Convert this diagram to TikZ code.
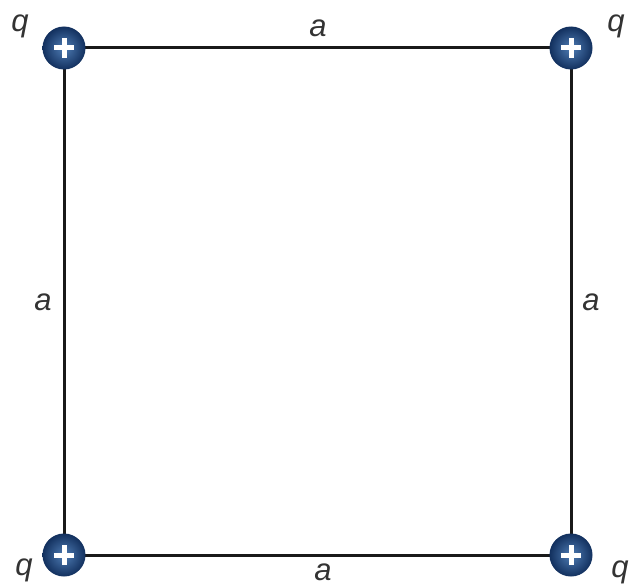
\documentclass[tikz,border=0pt]{standalone}
\usepackage{fontspec}
\setmainfont{Liberation Sans}
\begin{document}
\begin{tikzpicture}[x=1pt,y=-1pt,
  charge/.style={circle,minimum size=43pt,inner sep=0pt,draw=none,
    inner color=chargelight,outer color=chargedark},
  edge/.style={line width=3pt,black!90},
  lbl/.style={font=\fontsize{31}{31}\selectfont\itshape,text=black!80,inner sep=0pt}]
\definecolor{chargelight}{HTML}{4F7DB5}
\definecolor{chargedark}{HTML}{12305E}
\useasboundingbox (0,0) rectangle (631,586);
\coordinate (tl) at (64,48);
\coordinate (tr) at (571,48);
\coordinate (bl) at (64,555);
\coordinate (br) at (571,555);
\draw[edge] (tl) -- (tr) -- (br) -- (bl) -- cycle;
\foreach \p in {tl,tr,bl,br}{
  \node[charge] (c\p) at (\p) {};
  \draw[white,line width=5pt] ([xshift=-10pt]c\p.center) -- ([xshift=10pt]c\p.center);
  \draw[white,line width=5pt] ([yshift=-10pt]c\p.center) -- ([yshift=10pt]c\p.center);
}
\node[lbl] (qtl) at (20,26) {q};
\node[lbl] (qtr) at (616,26) {q};
\node[lbl] (qbl) at (24,570) {q};
\node[lbl] (qbr) at (620,572) {q};
\node[lbl] (atop) at (318,28) {a};
\node[lbl] (abot) at (323,572) {a};
\node[lbl] (aleft) at (43,302) {a};
\node[lbl] (aright) at (591,302) {a};
\end{tikzpicture}
\end{document}
